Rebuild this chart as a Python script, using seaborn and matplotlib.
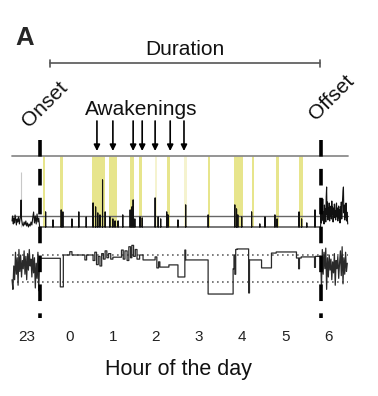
import numpy as np
import pandas as pd
import matplotlib
matplotlib.use("Agg")
import matplotlib.pyplot as plt
import seaborn as sns

# ---------------- data ----------------
hours = [23, 24, 25, 26, 27, 28, 29, 30]
hour_labels = ["23", "0", "1", "2", "3", "4", "5", "6"]
onset = 23.30
offset = 29.82
duration_span = [23.54, 29.80]
awakening_times = [24.63, 25.00, 25.47, 25.68, 25.98, 26.33, 26.65]

wake_band_start = [23.38, 23.77, 24.52, 24.91, 25.40, 25.61, 26.25, 27.21, 27.81, 28.23, 28.78, 29.32]
wake_band_end = [23.42, 23.84, 24.82, 25.09, 25.49, 25.67, 26.32, 27.25, 28.02, 28.27, 28.85, 29.41]
brief_band_start = [25.98, 26.65]
brief_band_end = [26.02, 26.72]

activity_threshold = 11
activity_ceiling = 71

pre_act_t = [22.66, 22.67, 22.69, 22.70, 22.72, 22.73, 22.75, 22.76, 22.78, 22.79,
             22.81, 22.83, 22.84, 22.86, 22.87, 22.88, 22.90, 22.92, 22.94, 22.96,
             22.98, 23.00, 23.02, 23.04, 23.06, 23.08, 23.10, 23.12, 23.14, 23.16,
             23.18, 23.20, 23.22, 23.24, 23.26, 23.28, 23.30]
pre_act_v = [6, 11, 3, 9, 4, 12, 7, 2, 8, 5,
             10, 3, 6, 12, 27, 8, 3, 1, 5, 2,
             6, 1, 4, 0, 3, 1, 5, 2, 9, 15,
             4, 11, 3, 13, 5, 9, 0]
faint_spike_t = [22.87]
faint_spike_h = [55]

spike_t = [23.44, 23.61, 23.80, 23.84, 24.05, 24.21, 24.38, 24.54, 24.60, 24.65,
           24.70, 24.76, 24.82, 24.93, 25.00, 25.05, 25.12, 25.23, 25.40, 25.44,
           25.47, 25.51, 25.63, 25.68, 25.98, 26.05, 26.11, 26.25, 26.28, 26.51,
           26.69, 27.21, 27.83, 27.87, 27.90, 27.99, 28.22, 28.41, 28.53, 28.76,
           28.81, 29.32, 29.38, 29.50, 29.69]
spike_h = [15, 7, 17, 15, 8, 15, 10, 24, 20, 14,
           12, 47, 15, 10, 8, 6, 6, 12, 17, 20,
           27, 8, 10, 9, 29, 10, 8, 15, 12, 7,
           22, 12, 22, 18, 12, 10, 15, 3, 10, 12,
           8, 15, 8, 4, 17]

post_act_t = [29.82, 29.83, 29.84, 29.85, 29.86, 29.87, 29.88, 29.89, 29.90, 29.91,
              29.92, 29.93, 29.94, 29.95, 29.96, 29.97, 29.98, 29.99, 30.00, 30.01,
              30.02, 30.03, 30.04, 30.05, 30.06, 30.07, 30.08, 30.09, 30.10, 30.11,
              30.12, 30.13, 30.14, 30.15, 30.16, 30.17, 30.18, 30.19, 30.20, 30.21,
              30.22, 30.23, 30.24, 30.25, 30.26, 30.27, 30.28, 30.29, 30.30, 30.31,
              30.32, 30.33, 30.34, 30.35, 30.36, 30.37, 30.38, 30.39, 30.40, 30.41,
              30.42, 30.43, 30.44, 30.45]
post_act_v = [0, 14, 4, 20, 8, 28, 6, 15, 3, 22,
              9, 18, 5, 30, 40, 12, 25, 7, 19, 10,
              24, 6, 17, 11, 21, 8, 26, 13, 20, 5,
              18, 9, 23, 12, 16, 7, 22, 24, 10, 19,
              6, 15, 21, 9, 17, 4, 20, 11, 25, 8,
              16, 28, 36, 40, 14, 22, 7, 18, 10, 24,
              6, 15, 9, 3]

light_ref = [0, 1]
pre_light_t = [22.66, 22.68, 22.70, 22.72, 22.74, 22.76, 22.78, 22.80, 22.82, 22.84,
               22.86, 22.88, 22.90, 22.92, 22.94, 22.96, 22.98, 23.00, 23.02, 23.04,
               23.06, 23.08, 23.10, 23.12, 23.14, 23.16, 23.18, 23.20, 23.22, 23.24,
               23.26, 23.28, 23.30]
pre_light_v = [0.1, -0.25, 0.6, 0.1, 1.1, 0.3, 0.9, -0.1, 1.2, 0.4,
               1.0, 0.2, 0.8, 0.5, 1.15, 0.3, 0.95, 0.1, 1.05, 0.45,
               1.2, 0.6, 0.85, 0.2, 1.0, 0.35, 0.9, -0.2, 0.7, 0.15,
               1.1, -0.3, 0.88]
sleep_light_t = [23.30, 23.78, 23.85, 24.00, 24.05, 24.35, 24.39, 24.54, 24.58, 24.62,
                 24.66, 24.70, 24.74, 24.78, 24.82, 24.86, 24.90, 24.95, 25.00, 25.20,
                 25.24, 25.28, 25.33, 25.37, 25.41, 25.44, 25.48, 25.52, 25.56, 25.62,
                 25.70, 25.98, 26.02, 26.06, 26.09, 26.30, 26.51, 26.67, 26.69, 27.21,
                 27.79, 27.81, 27.83, 27.85, 27.88, 28.15, 28.17, 28.45, 28.68, 28.79,
                 29.26, 29.31, 29.33, 29.37, 29.68, 29.70]
sleep_light_v = [0.88, -0.16, 1.0, 1.12, 1.0, 0.82, 1.0, 0.8, 1.1, 0.65,
                 0.95, 0.6, 1.05, 0.85, 1.15, 0.9, 1.05, 0.85, 0.92, 1.18,
                 0.85, 1.15, 0.8, 1.3, 0.9, 1.35, 0.95, 1.2, 0.85, 1.0,
                 0.82, 0.93, 0.53, 0.75, 0.56, 0.64, 0.2, 1.18, 0.82, -0.42,
                 0.5, 1.0, 0.3, 1.2, 1.22, -0.38, 0.82, 0.53, 1.07, 1.11,
                 0.89, 0.5, 0.89, 0.93, 0.55, 0.95]
post_light_t = [29.82, 29.84, 29.86, 29.88, 29.90, 29.92, 29.94, 29.96, 29.98, 30.00,
                30.02, 30.04, 30.06, 30.08, 30.10, 30.12, 30.14, 30.16, 30.18, 30.20,
                30.22, 30.24, 30.26, 30.28, 30.30, 30.32, 30.34, 30.36, 30.38, 30.40,
                30.42, 30.44]
post_light_v = [0.95, -0.2, 1.2, 0.3, 1.1, 0.5, 1.25, -0.25, 0.9, 0.2,
                1.0, 0.45, 0.85, 0.1, 0.75, 0.35, 1.05, -0.1, 0.8, 0.5,
                0.95, 0.15, 0.7, 1.15, 0.25, 1.3, -0.05, 0.9, 0.3, 1.1,
                0.4, 0.7]

# ---------------- build series ----------------
act_x, act_y = list(pre_act_t), list(pre_act_v)
for t, h in zip(spike_t, spike_h):
    act_x += [t, t, t]
    act_y += [0, h, 0]
act_x += post_act_t
act_y += post_act_v
act_df = pd.DataFrame({"t": act_x, "v": act_y})

lx, ly = list(pre_light_t), list(pre_light_v)
ends = sleep_light_t[1:] + [post_light_t[0]]
for t0, t1, v in zip(sleep_light_t, ends, sleep_light_v):
    lx += [t0, t1]
    ly += [v, v]
lx += post_light_t
ly += post_light_v
light_df = pd.DataFrame({"t": lx, "v": ly})

# ---------------- figure ----------------
sns.set_style("white")
plt.rcParams["font.family"] = ["Liberation Sans", "DejaVu Sans"]

W_PX, H_PX = 378, 396
fig = plt.figure(figsize=(W_PX / 100, H_PX / 100), dpi=100)
XL = (22.5, 30.55)
left = 5.15 / W_PX
width = 346.9 / W_PX

ax_act = fig.add_axes([left, 1 - 230 / H_PX, width, 76 / H_PX])
ax_light = fig.add_axes([left, 1 - 303.1 / H_PX, width, 64.6 / H_PX])
ax_over = fig.add_axes([left, 0, width, 1], zorder=5)

span = [pre_act_t[0], post_act_t[-1]]

# activity panel
for s, e in zip(wake_band_start, wake_band_end):
    ax_act.fill_between([s, e], 0, activity_ceiling, color="#e7e58c", lw=0, zorder=1)
for s, e in zip(brief_band_start, brief_band_end):
    ax_act.fill_between([s, e], 0, activity_ceiling, color="#f5f3cf", lw=0, zorder=1)
sns.lineplot(x=span, y=[activity_ceiling] * 2, ax=ax_act, color="#8c8c8c", lw=1.3,
             estimator=None, sort=False, zorder=2)
sns.lineplot(x=span, y=[activity_threshold] * 2, ax=ax_act, color="#666666", lw=1.0,
             estimator=None, sort=False, zorder=2)
for t, h in zip(faint_spike_t, faint_spike_h):
    ax_act.vlines(t, 0, h, color="#c8c8c8", lw=0.8, zorder=2)
sns.lineplot(data=act_df, x="t", y="v", ax=ax_act, color="#111111", lw=0.8,
             estimator=None, sort=False, zorder=3)
ax_act.set_xlim(*XL)
ax_act.set_ylim(-3, 73)
ax_act.axis("off")

# light panel
for r in light_ref:
    sns.lineplot(x=span, y=[r, r], ax=ax_light, color="#666666", lw=1.2,
                 linestyle=(0, (1, 2)), estimator=None, sort=False)
sns.lineplot(data=light_df, x="t", y="v", ax=ax_light, color="#2a2a2a", lw=0.9,
             estimator=None, sort=False)
ax_light.set_xlim(*XL)
ax_light.set_ylim(-0.75, 1.6)
for sp in ax_light.spines.values():
    sp.set_visible(False)
ax_light.set_facecolor("none")
ax_light.set_yticks([])
ax_light.set_ylabel("")
ax_light.set_xticks(hours)
ax_light.set_xticklabels(hour_labels, fontsize=11, color="#222222")
ax_light.tick_params(axis="x", length=0, pad=19.5)
ax_light.set_xlabel("Hour of the day", fontsize=15.5, labelpad=11, color="#111111")

# overlay: dashed onset / offset, arrows, bracket
ax_over.set_xlim(*XL)
ax_over.set_ylim(H_PX, 0)
ax_over.axis("off")
ax_over.patch.set_alpha(0)
for t in (onset, offset):
    ax_over.plot([t, t], [140, 318], color="black", lw=2.6,
                 linestyle=(0, (4.6, 3.4)), solid_capstyle="butt")
for t in awakening_times:
    ax_over.annotate("", xy=(t, 151), xytext=(t, 121),
                     arrowprops=dict(arrowstyle="-|>", lw=1.2, color="black",
                                     mutation_scale=9, shrinkA=0, shrinkB=0))
ax_over.plot(duration_span, [63, 63], color="#555555", lw=1.2)
for t in duration_span:
    ax_over.plot([t, t], [59.5, 66.5], color="#555555", lw=1.2)

# texts
def fx(px):
    return px / W_PX

def fy(py):
    return 1 - py / H_PX

fig.text(fx(15), fy(45), "A", fontsize=18.5, fontweight="bold", ha="left", va="baseline")
fig.text(fx(185), fy(55), "Duration", fontsize=15, ha="center", va="baseline", color="#111111")
fig.text(fx(141), fy(115), "Awakenings", fontsize=15, ha="center", va="baseline", color="#111111")
fig.text(fx(45), fy(104), "Onset", fontsize=15, rotation=45, ha="center", va="center",
         rotation_mode="anchor", color="#111111")
fig.text(fx(332), fy(98), "Offset", fontsize=15, rotation=45, ha="center", va="center",
         rotation_mode="anchor", color="#111111")

fig.savefig("out.png", dpi=100)
